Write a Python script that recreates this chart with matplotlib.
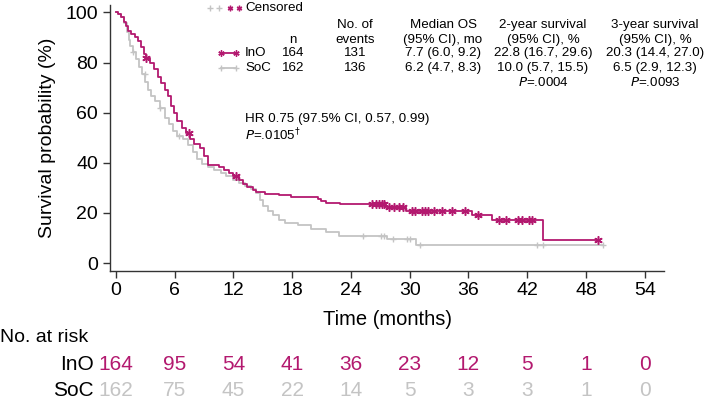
import numpy as np
import matplotlib
matplotlib.use("Agg")
import matplotlib.pyplot as plt
from matplotlib.transforms import blended_transform_factory

plt.rcParams['font.family'] = ['Liberation Sans', 'DejaVu Sans']

MAG = '#B3196F'
GRY = '#C4C4C4'

# Kaplan-Meier step data (time in months, survival %)
ino_t = [0, 0.2, 0.5, 0.8, 1.0, 1.2, 1.6, 2.0, 2.3, 2.6, 2.9, 3.1, 3.5, 3.9, 4.3, 4.6, 5.0, 5.3, 5.6, 5.9,
         6.3, 6.8, 7.2, 7.6, 8.0, 8.6, 9.0, 9.4, 10.5, 11.0, 11.6, 12.0, 12.6, 13.0, 13.4, 14.0, 14.3,
         15.2, 16.7, 17.9, 20.6, 21.0, 21.5, 22.9, 27.5, 29.6, 36.4, 38.4, 43.6]
ino_s = [100, 99.4, 98.2, 96.3, 94.5, 92.7, 91.5, 90.2, 88.4, 86.0, 83.5, 81.7, 79.9, 77.4, 74.4, 72.0, 68.9,
         66.5, 62.8, 59.8, 56.7, 53.7, 51.8, 49.4, 47.6, 45.7, 42.7, 39.0, 38.4, 37.2, 36.0, 34.8, 33.0,
         31.7, 30.5, 29.3, 28.4, 27.7, 27.0, 26.5, 25.5, 24.6, 24.0, 23.4, 22.4, 20.8, 19.1, 17.1, 9.0]
ino_end = 49.2
ino_cens = [3.1, 7.5, 12.3, 26.2, 26.6, 26.9, 27.2, 27.4, 27.9, 28.4, 28.9, 29.3, 30.2, 30.5, 31.3, 31.6,
            31.9, 32.5, 33.3, 34.3, 35.6, 37.0, 39.1, 39.8, 41.1, 41.5, 42.2, 42.5, 49.2]

soc_t = [0, 0.2, 0.5, 0.8, 1.1, 1.3, 1.5, 1.8, 2.1, 2.4, 2.7, 3.0, 3.3, 3.6, 4.0, 4.5, 5.0, 5.4, 5.8, 6.2,
         6.9, 7.4, 7.9, 8.3, 8.8, 9.4, 10.0, 10.7, 11.3, 12.0, 12.6, 13.2, 13.8, 14.3, 14.7, 15.0, 15.5,
         16.1, 16.7, 17.3, 18.6, 19.9, 21.5, 22.8, 27.7, 30.6]
soc_s = [100, 99.4, 98.1, 95.7, 92.0, 88.9, 86.4, 84.0, 81.5, 78.4, 75.3, 72.2, 69.1, 66.7, 64.8, 61.7, 58.0,
         55.6, 52.5, 50.6, 49.4, 46.9, 44.4, 41.4, 39.5, 38.3, 37.0, 35.8, 34.6, 33.3, 32.1, 30.9, 29.6,
         27.8, 25.3, 22.8, 20.9, 19.1, 17.3, 16.0, 15.1, 13.5, 12.5, 10.8, 9.6, 7.2]
soc_end = 49.7
soc_cens = [1.8, 2.95, 4.5, 6.5, 25.2, 27.1, 27.4, 28.3, 29.7, 30.0, 31.1, 43.0, 43.6, 49.7]

ticks = [0, 6, 12, 18, 24, 30, 36, 42, 48, 54]
risk_ino = [164, 95, 54, 41, 36, 23, 12, 5, 1, 0]
risk_soc = [162, 75, 45, 22, 14, 5, 3, 3, 1, 0]

table_rows = [
    ["InO", "164", "131", "7.7 (6.0, 9.2)", "22.8 (16.7, 29.6)", "20.3 (14.4, 27.0)"],
    ["SoC", "162", "136", "6.2 (4.7, 8.3)", "10.0 (5.7, 15.5)", "6.5 (2.9, 12.3)"],
]


def step_value(ts, ss, t):
    idx = np.searchsorted(ts, t, side='right') - 1
    return ss[idx]


fig = plt.figure(figsize=(7.09, 4.04), dpi=100)
ax = fig.add_axes([0.155, 0.329, 0.782, 0.659])

STAR = (6, 2, 0)
for ts, ss, tend, cens, col, mk, ms, mew in [
        (soc_t, soc_s, soc_end, soc_cens, GRY, '+', 5, 1.0),
        (ino_t, ino_s, ino_end, ino_cens, MAG, STAR, 6, 1.1)]:
    xs = list(ts) + [tend]
    ys = list(ss) + [ss[-1]]
    ax.step(xs, ys, where='post', color=col, lw=1.3)
    cy = [step_value(ts, ss, c) for c in cens]
    ax.plot(cens, cy, ls='none', marker=mk, color=col, ms=ms, mew=mew)

ax.set_xlim(-0.6, 56)
ax.set_ylim(-3.2, 103)
ax.set_xticks(ticks)
ax.set_yticks([0, 20, 40, 60, 80, 100])
ax.spines['top'].set_visible(False)
ax.spines['right'].set_visible(False)
for s in ['left', 'bottom']:
    ax.spines[s].set_color('#333333')
    ax.spines[s].set_linewidth(1.0)
ax.tick_params(axis='both', direction='out', length=5, width=1.0, color='#333333', labelsize=14)
ax.tick_params(axis='x', pad=3)
ax.set_ylabel('Survival probability (%)', fontsize=14, labelpad=7)
ax.set_xlabel('Time (months)', fontsize=14.5, labelpad=8)

# Legend / table
ft = fig.transFigure
def fx(px):
    return px / 709.0
def fy(py):
    return 1 - py / 404.0

tsz = 9.6
# censored legend
fig.lines.append(plt.Line2D([fx(210), fx(219)], [fy(8)] * 2, transform=ft, ls='none', marker='+', color=GRY, ms=4, mew=1))
fig.lines.append(plt.Line2D([fx(230), fx(239)], [fy(8)] * 2, transform=ft, ls='none', marker=STAR, color=MAG, ms=4, mew=1))
fig.text(fx(245), fy(8), 'Censored', fontsize=tsz, va='center', ha='left')

# headers
hdr_y1, hdr_y2 = fy(25), fy(40)
cols_x = [293, 355, 443, 543, 655]
fig.text(fx(cols_x[0]), hdr_y2, 'n', fontsize=tsz, va='center', ha='center')
fig.text(fx(cols_x[1]), hdr_y1, 'No. of', fontsize=tsz, va='center', ha='center')
fig.text(fx(cols_x[1]), hdr_y2, 'events', fontsize=tsz, va='center', ha='center')
fig.text(fx(cols_x[2]), hdr_y1, 'Median OS', fontsize=tsz, va='center', ha='center')
fig.text(fx(cols_x[2]), hdr_y2, '(95% CI), mo', fontsize=tsz, va='center', ha='center')
fig.text(fx(cols_x[3]), hdr_y1, '2-year survival', fontsize=tsz, va='center', ha='center')
fig.text(fx(cols_x[3]), hdr_y2, '(95% CI), %', fontsize=tsz, va='center', ha='center')
fig.text(fx(cols_x[4]), hdr_y1, '3-year survival', fontsize=tsz, va='center', ha='center')
fig.text(fx(cols_x[4]), hdr_y2, '(95% CI), %', fontsize=tsz, va='center', ha='center')

row_ys = [fy(53), fy(68)]
for (row, col, mk, yy) in zip(table_rows, [MAG, GRY], [STAR, '+'], row_ys):
    fig.lines.append(plt.Line2D([fx(221), fx(236)], [yy, yy], transform=ft, color=col, lw=1.3,
                                marker=mk, ms=4.5, mew=1))
    fig.text(fx(245), yy, row[0], fontsize=tsz, va='center', ha='left')
    for v, cx in zip(row[1:], cols_x):
        fig.text(fx(cx), yy, v, fontsize=tsz, va='center', ha='center')
fig.text(fx(cols_x[3]), fy(83), r'$\it{P}$=.0004', fontsize=tsz, va='center', ha='center')
fig.text(fx(cols_x[4]), fy(83), r'$\it{P}$=.0093', fontsize=tsz, va='center', ha='center')

fig.text(fx(245), fy(119), 'HR 0.75 (97.5% CI, 0.57, 0.99)', fontsize=tsz, va='center', ha='left')
fig.text(fx(245), fy(135), r'$\it{P}$=.0105$^{\dagger}$', fontsize=tsz, va='center', ha='left')

# at-risk table
bt = blended_transform_factory(ax.transData, ft)
fig.text(0.0, fy(338), 'No. at risk', fontsize=14, va='center', ha='left')
fig.text(fx(94), fy(365), 'InO', fontsize=15, va='center', ha='right')
fig.text(fx(94), fy(390), 'SoC', fontsize=15, va='center', ha='right')
for t, a, b in zip(ticks, risk_ino, risk_soc):
    ax.text(t, fy(365), str(a), transform=bt, fontsize=15, color=MAG, va='center', ha='center')
    ax.text(t, fy(390), str(b), transform=bt, fontsize=15, color=GRY, va='center', ha='center')

fig.savefig('out.png', dpi=100)
